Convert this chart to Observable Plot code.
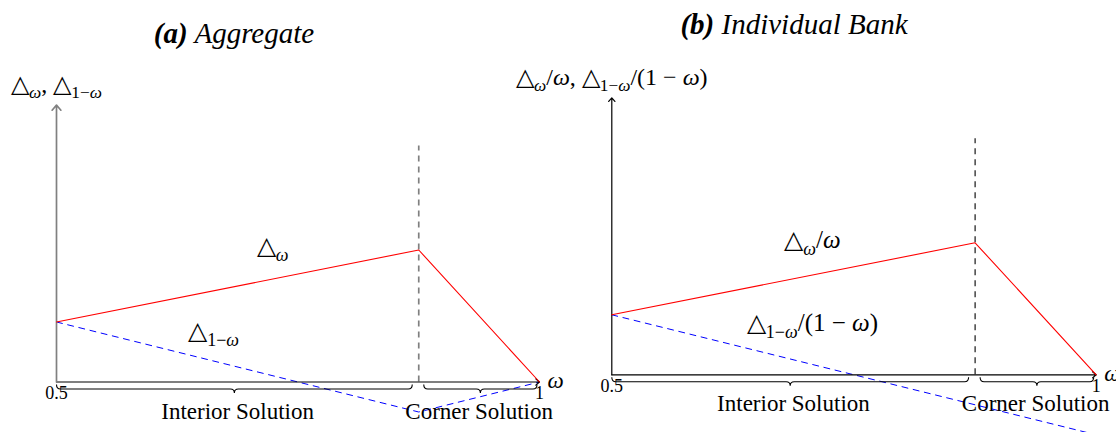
<!DOCTYPE html>
<html>
<head>
<meta charset="utf-8">
<script src="https://cdn.jsdelivr.net/npm/d3@7"></script>
<script src="https://cdn.jsdelivr.net/npm/@observablehq/plot@0.6"></script>
<style>
  body { margin: 0; background: #fff; }
  #wrap { display: flex; width: 1116px; height: 432px; overflow: hidden; }
  #wrap svg { overflow: visible; }
</style>
</head>
<body>
<div id="wrap"></div>
<script>
// Share of funds ω runs from one half to one; the regime switches at the kink.
const omegaDomain = [0.5, 1];
const kinkOmega = 0.875;
const tickValues = [0.5, 1];
const tickLabels = ["0.5", "1"];
const regionNames = ["Interior Solution", "Corner Solution"];
const regionStart = [0.5, 0.875];
const regionEnd = [0.875, 1];
const axisTop = 2.77;
const dashTop = 2.36;

// (a) Aggregate
const aggOmega = [0.5, 0.875, 1];
const aggDeltaOmega = [0.6, 1.32, 0];
const aggDeltaRest = [0.6, -0.3, 0];

// (b) Individual bank
const bankOmega = [0.5, 0.875, 1];
const bankDeltaOmega = [0.6, 1.32, 0];
const bankOmegaRest = [0.5, 1];
const bankDeltaRest = [0.6, -0.6];

const FONT = "Liberation Serif, Times New Roman, serif";
const svgNS = "http://www.w3.org/2000/svg";

// Turn "△_{1−ω}" style markup into tspans: subscripts lowered and shrunk, ω in italics.
function setRich(el, markup, size) {
  el.textContent = "";
  const drop = Math.round(size * 0.27);
  let lowered = false;
  for (const part of markup.split(/(_\{[^}]*\})/)) {
    if (!part) continue;
    const isSub = part.startsWith("_{");
    const body = isSub ? part.slice(2, -1) : part;
    let first = true;
    for (const p of body.split(/(ω)/)) {
      if (!p) continue;
      const t = document.createElementNS(svgNS, "tspan");
      if (p === "ω") t.setAttribute("font-style", "italic");
      if (isSub) t.setAttribute("font-size", (size * 0.72).toFixed(1));
      if (first) {
        if (isSub && !lowered) { t.setAttribute("dy", drop); lowered = true; }
        else if (!isSub && lowered) { t.setAttribute("dy", -drop); lowered = false; }
      }
      first = false;
      t.textContent = p;
      el.appendChild(t);
    }
  }
}

function bracePath(a, b, y0) {
  const r = 4, m = (a + b) / 2, y1 = y0 + 4.5, y2 = y0 + 8.5;
  return `M${a},${y0} Q${a},${y1} ${a + r},${y1} L${m - r},${y1} Q${m},${y1} ${m},${y2} ` +
         `Q${m},${y1} ${m + r},${y1} L${b - r},${y1} Q${b},${y1} ${b},${y0}`;
}

function panel(cfg) {
  const red = cfg.omega.map((w, i) => ({w, v: cfg.dOmega[i]}));
  const blue = cfg.omegaRest.map((w, i) => ({w, v: cfg.dRest[i]}));
  const ticks = tickValues.map((w, i) => ({w, label: tickLabels[i]}));
  const regions = regionNames.map((name, i) => ({name, mid: (regionStart[i] + regionEnd[i]) / 2}));
  // curve labels hang off the middle of the rising red segment
  const anchor = [{w: (red[0].w + red[1].w) / 2, v: (red[0].v + red[1].v) / 2}];
  const txt = {fontFamily: FONT, lineAnchor: "bottom"};

  const plot = Plot.plot({
    width: 558,
    height: 432,
    style: {fontFamily: FONT, background: "transparent", overflow: "visible"},
    x: {domain: omegaDomain, range: cfg.xRange, axis: null},
    y: {domain: [0, axisTop], range: cfg.yRange, axis: null},
    marks: [
      Plot.ruleX([kinkOmega], {x: d => d, y1: 0, y2: dashTop, stroke: cfg.dashColor,
        strokeWidth: cfg.dashWidth, strokeDasharray: "6,5"}),
      Plot.line(blue, {x: "w", y: "v", stroke: "#0000ff", strokeWidth: 1, strokeDasharray: "6,5.5"}),
      Plot.arrow([omegaDomain], {x1: d => d[0], y1: 0, x2: d => d[1], y2: 0,
        stroke: "#000", strokeWidth: 1.2, headLength: 6, headAngle: 80}),
      Plot.arrow([omegaDomain], {x1: d => d[0], y1: 0, x2: d => d[0], y2: axisTop,
        stroke: cfg.axisColor, strokeWidth: cfg.axisWidth, headLength: 6, headAngle: 80}),
      Plot.line(red, {x: "w", y: "v", stroke: "#ff0000", strokeWidth: 1.1}),
      // curly braces under the ω axis marking the two regimes
      (index, scales) => {
        const x = scales.x, y = scales.y;
        const g = d3.create("svg:g").attr("fill", "none").attr("stroke", "#000").attr("stroke-width", 1.1);
        regionStart.forEach((s, i) => {
          const a = x(s) + (i === 0 ? 0.5 : 5.5);
          const b = x(regionEnd[i]) - (i === 0 ? 6 : 2);
          g.append("path").attr("d", bracePath(a, b, y(0) + 3));
        });
        return g.node();
      },
      Plot.text(ticks, {...txt, x: "w", y: 0, text: "label", dy: 17, fontSize: 18}),
      Plot.text([omegaDomain[1]], {...txt, x: d => d, y: 0, text: () => "ω", dx: 8, dy: 6,
        textAnchor: "start", fontSize: 23, fontStyle: "italic"}),
      Plot.text(regions, {...txt, x: "mid", y: 0, text: "name", dy: 36.5, fontSize: 23}),
      Plot.text(anchor, {...txt, x: "w", y: "v", text: () => cfg.redLabel, dx: cfg.redDx, dy: cfg.redDy,
        fontSize: 25}),
      Plot.text(anchor, {...txt, x: "w", y: "v", text: () => cfg.blueLabel, dx: cfg.blueDx, dy: cfg.blueDy,
        fontSize: 25}),
      Plot.text([omegaDomain[0]], {...txt, x: d => d, y: axisTop, text: () => cfg.yLabel, dy: cfg.yLabelDy,
        fontSize: 24})
    ]
  });

  // panel title
  const svg = d3.select(plot.tagName.toLowerCase() === "svg" ? plot : plot.querySelector("svg"));
  const title = svg.append("text").attr("x", cfg.titleX).attr("y", cfg.titleY)
    .attr("text-anchor", "middle").attr("font-family", FONT).attr("font-size", 29)
    .attr("font-style", "italic").attr("fill", "#000");
  title.append("tspan").attr("font-weight", "bold").text(cfg.titleTag);
  title.append("tspan").text(" " + cfg.titleText);
  return plot;
}

const wrap = document.getElementById("wrap");

wrap.appendChild(panel({
  xRange: [56, 539], yRange: [381.5, 104.5],
  omega: aggOmega, dOmega: aggDeltaOmega, omegaRest: aggOmega, dRest: aggDeltaRest,
  axisColor: "#808080", axisWidth: 1.7, dashColor: "#808080", dashWidth: 1.7,
  redLabel: "△_{ω}", redDx: 35, redDy: -32,
  blueLabel: "△_{1−ω}", blueDx: -24, blueDy: 53,
  yLabel: "△_{ω}, △_{1−ω}", yLabelDy: -13,
  titleTag: "(a)", titleText: "Aggregate", titleX: 234, titleY: 43
}));

wrap.appendChild(panel({
  xRange: [53.3, 537.7], yRange: [374.3, 97.3],
  omega: bankOmega, dOmega: bankDeltaOmega, omegaRest: bankOmegaRest, dRest: bankDeltaRest,
  axisColor: "#000", axisWidth: 1.2, dashColor: "#000", dashWidth: 1.1,
  redLabel: "△_{ω}/ω", redDx: 19, redDy: -31,
  blueLabel: "△_{1−ω}/(1 − ω)", blueDx: 19, blueDy: 52,
  yLabel: "△_{ω}/ω, △_{1−ω}/(1 − ω)", yLabelDy: -13,
  titleTag: "(b)", titleText: "Individual Bank", titleX: 236, titleY: 34
}));

// render the math markup inside every text label
wrap.querySelectorAll("text").forEach(el => {
  const s = el.textContent;
  if (s.includes("_{")) setRich(el, s, parseFloat(getComputedStyle(el).fontSize));
});
</script>
</body>
</html>
